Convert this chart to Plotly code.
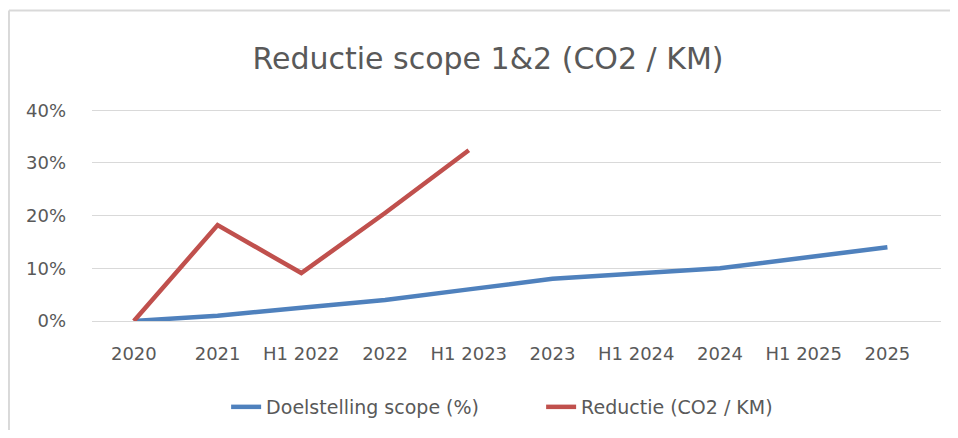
import plotly.graph_objects as go

categories = ["2020", "2021", "H1 2022", "2022", "H1 2023", "2023", "H1 2024", "2024", "H1 2025", "2025"]
doelstelling = [0.0, 0.01, 0.025, 0.04, 0.06, 0.08, 0.09, 0.10, 0.12, 0.14]
reductie = [0.0, 0.182, 0.091, 0.205, 0.324]
reductie_categories = categories[:len(reductie)]
y_ticks = [0, 0.1, 0.2, 0.3, 0.4]

FONT = "DejaVu Sans"
GREY = "#595959"
BORDER = "#d9d9d9"

W, H = 942, 422

fig = go.Figure()
fig.add_trace(go.Scatter(x=list(range(len(categories))), y=doelstelling, mode="lines",
                         name="Doelstelling scope (%)",
                         line=dict(color="#4f81bd", width=4.5)))
fig.add_trace(go.Scatter(x=list(range(len(reductie_categories))), y=reductie, mode="lines",
                         name="Reductie (CO2 / KM)",
                         line=dict(color="#c0504d", width=4.5)))

fig.update_layout(
    width=W, height=H,
    margin=dict(l=84, r=9, t=97, b=109),
    paper_bgcolor="white", plot_bgcolor="white",
    font=dict(family=FONT, color=GREY, size=18),
    title=dict(text="Reductie scope 1&2 (CO2 / KM)", x=480 / W, xref="container", xanchor="center",
               y=1 - 50 / H, yref="container", yanchor="middle",
               font=dict(family=FONT, size=30, color=GREY)),
    showlegend=True,
    legend=dict(orientation="h", x=0.529, xanchor="center", xref="paper",
                y=1 - 399 / H, yref="container", yanchor="middle",
                font=dict(size=19, color=GREY),
                entrywidthmode="pixels", entrywidth=270, traceorder="normal"),
    xaxis=dict(tickmode="array", tickvals=list(range(len(categories))), ticktext=categories,
               range=[-0.5, 9.64], showgrid=False, zeroline=False, showline=False,
               ticks="", ticklabelstandoff=20, tickfont=dict(size=18, color=GREY)),
    yaxis=dict(range=[0, 0.41], tickvals=y_ticks, tickformat=".0%", showgrid=True,
               gridcolor=BORDER, gridwidth=1.3, zeroline=True, zerolinecolor=BORDER,
               zerolinewidth=1.3, showline=False, ticks="", ticklabelstandoff=25,
               tickfont=dict(size=18, color=GREY)),
    shapes=[
        dict(type="line", xref="paper", yref="paper", x0=-0.0978, x1=(W - 84) / 849,
             y0=1.4375, y1=1.4375, line=dict(color=BORDER, width=2), layer="below"),
        dict(type="line", xref="paper", yref="paper", x0=-0.0978, x1=-0.0978,
             y0=-1.0, y1=1.4375, line=dict(color=BORDER, width=2), layer="below"),
    ],
)

fig.write_html("out.html")
